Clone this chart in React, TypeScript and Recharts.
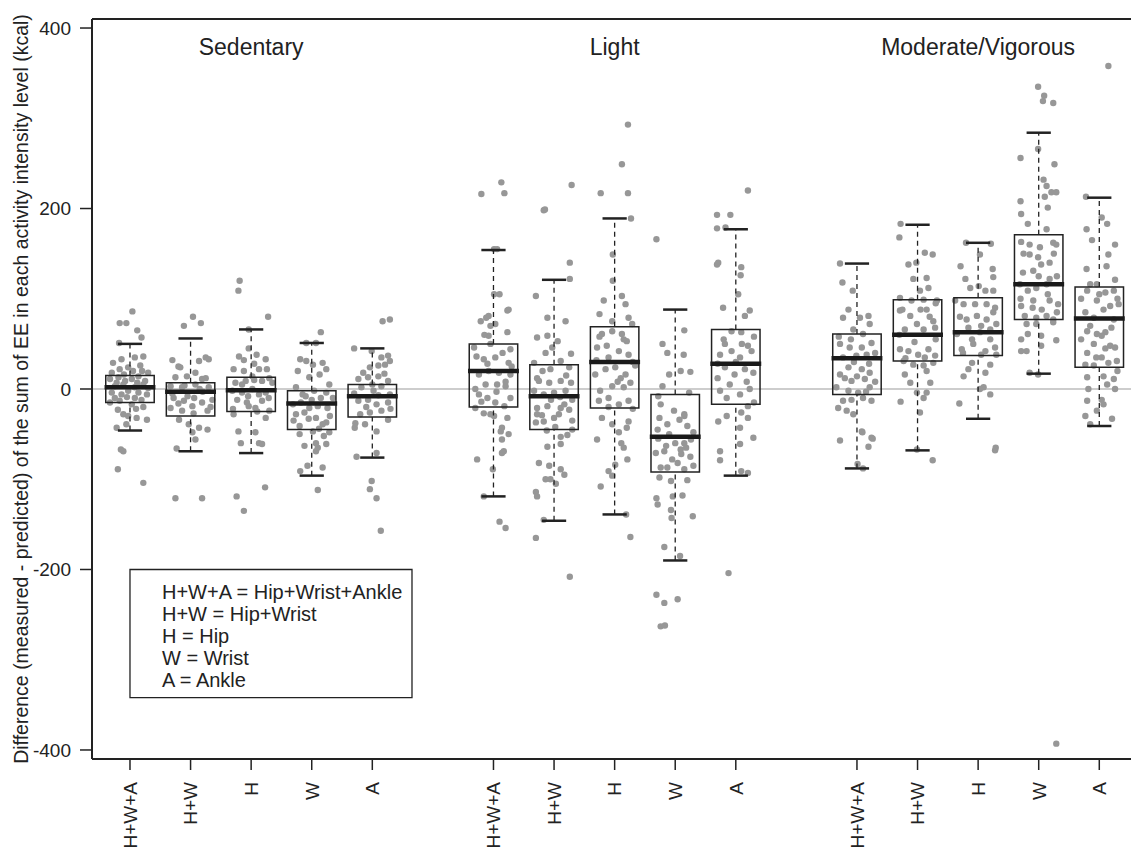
import {
  ComposedChart,
  Scatter,
  XAxis,
  YAxis,
  ReferenceLine,
  ReferenceArea,
  ReferenceDot,
} from 'recharts'

const font = '"Liberation Sans", Arial, Helvetica, sans-serif'
const ink = '#222'
const dotGray = '#979797'

const levels = ['Sedentary', 'Light', 'Moderate/Vigorous']
const levelCenters = [3, 9, 15]
const placements = ['H+W+A', 'H+W', 'H', 'W', 'A']
const positions = [1, 2, 3, 4, 5, 7, 8, 9, 10, 11, 13, 14, 15, 16, 17]
const yTicks = [-400, -200, 0, 200, 400]

const lowerWhisker = [-46, -69, -71, -96, -76, -119, -146, -139, -190, -96, -88, -68, -33, 17, -41]
const q1 = [-15, -30, -25, -45, -31, -20, -45, -21, -92, -17, -6, 31, 37, 77, 24]
const median = [2, -3, -1.5, -16, -8, 20, -8, 30, -53, 28, 34, 60, 63, 116, 78]
const q3 = [15, 7, 13, -2, 5, 50, 27, 69, -6, 66, 61, 99, 101, 171, 113]
const upperWhisker = [50, 56, 66, 51, 45, 154, 121, 189, 88, 177, 139, 182, 162, 284, 212]

const legendLines = [
  'H+W+A = Hip+Wrist+Ankle',
  'H+W = Hip+Wrist',
  'H = Hip',
  'W = Wrist',
  'A = Ankle',
]

const sedHWA = [
  [0.04, 86], [-0.17, 73], [-0.06, 73], [0.12, 65], [0.19, 57], [-0.18, 51],
  [-0.28, 29], [-0.14, 33], [0.08, 35], [0.22, 36], [-0.17, 22], [-0.03, 24], [0.17, 26],
  [-0.33, 11], [-0.19, 13], [-0.08, 9], [0.03, 11], [0.14, 14], [0.25, 9],
  [-0.25, 3], [-0.11, 5], [0.08, 2], [0.22, 5], [-0.3, -4], [-0.14, -6], [-0.03, -2], [0.14, -4], [0.28, -6],
  [-0.33, -15], [-0.17, -13], [0.19, -12], [0.03, -17], [-0.11, -28], [-0.03, -30], [0.11, -32], [0.28, -34],
  [-0.06, -39], [-0.22, -43], [-0.15, -67], [-0.11, -69], [-0.2, -89], [0.22, -104],
  [-0.3, 18], [0.3, 18], [-0.1, 16], [0.05, 20], [0.2, 20], [-0.22, 7], [0.12, 7], [0.3, 1],
  [-0.05, -9], [0.08, -10], [-0.25, -10], [0.22, -20], [-0.2, -23], [0.1, -22],
]
const sedHW = [
  [0.04, 80], [0.17, 73], [-0.11, 70], [-0.2, 25], [0.25, 35], [-0.17, 24], [0.14, 31], [0.3, 33],
  [-0.25, 13], [-0.06, 14], [0.19, 11], [0.08, 18], [-0.33, 3], [-0.14, 2], [0.08, 5], [0.3, 2],
  [-0.28, -10], [-0.11, -13], [0.06, -10], [0.19, -15], [0.36, -12],
  [-0.33, -21], [-0.14, -24], [0.03, -19], [0.28, -24], [-0.19, -34], [-0.03, -39], [0.14, -43], [0.28, -45],
  [0.03, -48], [0.08, -56], [-0.23, -66], [-0.25, -121], [0.19, -121],
  [-0.3, -5], [0.2, -3], [-0.05, -8], [0.33, -20], [-0.2, -16], [0.05, -27], [0.15, 0], [-0.1, 4],
  [0.25, 12], [-0.3, 32],
]
const sedH = [
  [-0.19, 120], [-0.21, 109], [0.28, 80], [-0.04, 66], [-0.04, 45], [0.09, 38], [-0.2, 36], [0.24, 33],
  [-0.29, 22], [-0.12, 20], [0.13, 22], [0.26, 22], [0.02, 14], [-0.26, 7], [-0.09, 9], [0.18, 9], [0.35, 7],
  [-0.31, -2], [-0.15, -4], [0.02, 0], [0.24, -4], [0.13, -6], [-0.23, -12], [-0.07, -15], [0.18, -13], [0.29, -10],
  [-0.29, -28], [-0.04, -19], [0.07, -21], [0.24, -32], [-0.21, -47], [0.07, -48], [0.13, -60],
  [-0.17, -60], [0.18, -61], [-0.24, -119], [0.23, -109], [-0.12, -135],
  [-0.15, 5], [0.05, 10], [0.3, 12], [-0.05, -8], [0.1, -25], [-0.3, -22], [0.3, -24], [0.05, 28], [-0.12, 32],
]
const sedW = [
  [0.15, 63], [-0.09, 51], [0.07, 51], [-0.19, 33], [-0.09, 31], [0.02, 27], [0.18, 29], [0.24, 22],
  [-0.23, 20], [-0.04, 13], [0.13, 16], [0.29, 5], [-0.26, 2], [-0.15, -6], [0.04, -2], [0.24, -4], [0.35, -10],
  [-0.31, -17], [-0.18, -15], [-0.04, -21], [0.1, -19], [0.26, -21], [-0.26, -28], [-0.12, -26], [0.07, -32], [0.24, -37],
  [-0.2, -41], [0.02, -47], [0.18, -39], [0.29, -48], [-0.12, -63], [0.07, -60], [0.24, -61],
  [0.07, -69], [0.1, -65], [-0.19, -91], [-0.07, -85], [0.18, -87], [0.1, -112],
  [-0.1, -8], [0.15, -10], [-0.3, -35], [0.12, -44], [-0.05, -33], [0.3, -30], [0, -12], [-0.2, -50], [0.2, -52],
]
const sedA = [
  [0.17, 75], [0.29, 77], [-0.3, 45], [-0.01, 42], [0.15, 35], [0.26, 37], [-0.04, 24], [0.1, 26], [0.21, 27], [0.29, 31],
  [-0.23, 11], [-0.07, 13], [0.1, 14], [0.26, 9], [-0.18, 2], [0.02, -2], [0.15, 3], [0.29, -6],
  [-0.23, -13], [-0.07, -12], [0.07, -17], [0.26, -15], [-0.2, -28], [-0.04, -26], [0.26, -34],
  [-0.29, -43], [-0.12, -39], [0.07, -47], [-0.26, -75], [0.07, -71],
  [-0.01, -102], [-0.04, -111], [0.07, -121], [0.14, -157],
  [-0.3, -5], [0.1, -7], [-0.1, -20], [0.15, -24], [0.3, -22], [-0.15, 18], [0.2, 17], [-0.28, -38], [0, 5],
]
const lightHWA = [
  [-0.2, 216], [0.13, 229], [0.18, 217], [0.01, 155], [0.06, 155], [0.01, 105], [0.1, 105], [0.23, 87], [0.25, 88],
  [-0.21, 75], [-0.08, 81], [-0.12, 79], [-0.05, 70], [0.03, 72], [0.23, 63], [-0.08, 59],
  [-0.32, 46], [-0.05, 50], [0.28, 44], [-0.16, 33], [0.03, 35], [0.25, 29],
  [-0.24, 16], [-0.08, 20], [0.09, 18], [0.28, 16], [-0.13, 5], [0.06, 5], [0.2, 3],
  [-0.24, -6], [-0.1, -10], [0.03, -15], [0.28, -10], [-0.3, -21], [-0.05, -28], [0.23, -32], [0.14, -43],
  [0.12, -47], [0.25, -50], [0.01, -30], [-0.16, -27], [0.14, -56], [0.14, -71], [0.17, -69],
  [-0.27, -78], [-0.01, -89], [-0.16, -119], [0.1, -147], [0.2, -154],
  [-0.28, 36], [0.15, 40], [-0.1, 28], [0.2, 8], [-0.3, 0], [0.05, -3], [-0.2, -14], [0.18, -19], [0.3, 25], [-0.15, 60],
]
const lightHW = [
  [0.29, 226], [-0.17, 198], [-0.15, 199], [0.26, 140], [0.26, 122], [-0.3, 103], [-0.11, 79], [0.19, 75],
  [-0.28, 57], [-0.11, 59], [0.06, 53], [-0.14, 40], [-0.33, 29], [-0.03, 46], [0.28, 39],
  [-0.19, 20], [-0.06, 22], [0.11, 31], [0.25, 24], [-0.25, 9], [-0.08, 7], [0.11, 9], [0.28, 7],
  [-0.33, -2], [-0.17, -6], [0, -4], [0.19, -2], [0.3, -12], [-0.28, -21], [-0.11, -19], [0.11, -21], [0.25, -23],
  [-0.3, -37], [-0.17, -36], [0.08, -28], [0, -32], [0.11, -53], [0.22, -51], [0.17, -17], [-0.28, -28],
  [0.11, -61], [-0.11, -64], [-0.25, -82], [-0.08, -85], [0.11, -89], [0.17, -95],
  [-0.14, -100], [-0.06, -100], [0.03, -105], [-0.3, -114], [-0.28, -119], [-0.17, -145], [-0.3, -165], [0.26, -208],
  [-0.28, 12], [0.2, 15], [-0.05, -12], [0.1, -9], [-0.2, -29], [0.3, -35], [0.02, -42], [-0.12, -46], [0.3, -45],
]
const lightH = [
  [0.22, 293], [0.12, 249], [-0.23, 217], [0.22, 217], [0.27, 189], [-0.03, 149], [-0.03, 120],
  [-0.18, 98], [0.12, 103], [0.18, 94], [-0.25, 83], [-0.04, 75], [0.23, 79], [0.29, 72],
  [-0.21, 61], [-0.04, 64], [0.12, 61], [0.2, 53], [-0.29, 46], [-0.13, 48], [0.07, 42], [0.23, 38],
  [-0.32, 16], [-0.15, 22], [0.01, 24], [0.18, 16], [0.34, 26], [-0.24, -2], [-0.04, 3], [0.15, 2], [0.26, 7],
  [-0.26, -13], [-0.1, -10], [0.07, -17], [0.23, -13], [-0.21, -32], [-0.04, -39], [0.23, -36], [0.2, -43],
  [-0.29, -56], [0.07, -48], [0.11, -60], [0.15, -65], [0.01, -84], [0.21, -78], [-0.1, -91], [-0.04, -96],
  [-0.23, -108], [0.19, -139], [0.26, -164],
  [-0.3, 32], [0.3, 30], [-0.1, 35], [0.15, 55], [-0.25, 58], [0.05, 8], [-0.1, -20], [0.3, -22], [0.1, 12],
]
const lightW = [
  [-0.31, 166], [0.15, 65], [-0.21, 50], [-0.13, 40], [0.14, 38], [0.09, 20], [0.25, 19], [-0.1, 16], [-0.21, 3],
  [0.23, -4], [-0.24, -17], [-0.02, -24], [0.15, -28], [-0.13, -39], [0.07, -34], [-0.29, -45],
  [0.15, -30], [-0.26, -32], [0.2, -41], [-0.1, -50], [0.15, -60], [0.26, -56],
  [-0.32, -71], [-0.18, -69], [0.09, -67], [0.18, -65], [0.04, -82], [-0.13, -87], [0.15, -89], [-0.24, -87],
  [-0.26, -98], [-0.07, -102], [0.2, -101], [-0.31, -121], [-0.29, -128], [-0.04, -119], [0.12, -118],
  [-0.07, -134], [0.29, -141], [-0.06, -143], [-0.18, -175], [0.08, -185],
  [-0.31, -228], [-0.18, -237], [0.04, -233], [-0.24, -263], [-0.17, -262],
  [-0.28, -55], [0.3, -48], [0, -60], [-0.15, -63], [0.25, -75], [-0.05, -78], [0.1, -72], [0.3, -85], [-0.28, -8],
]
const lightA = [
  [0.2, 220], [-0.31, 193], [-0.09, 193], [-0.31, 178], [-0.17, 179], [-0.29, 140], [-0.31, 138], [0.09, 135],
  [0.08, 126], [0.04, 105], [-0.21, 90], [0.23, 87], [0.15, 81], [-0.07, 64], [0.09, 63], [-0.18, 50], [0.2, 48],
  [-0.26, 38], [-0.07, 42], [0.07, 35], [0.26, 42], [-0.18, 24], [-0.02, 16], [0.15, 22], [0.29, 18],
  [-0.26, -2], [-0.1, 5], [0.07, -6], [0.23, 0], [-0.29, -36], [-0.15, -30], [0.09, -26], [0.2, -32],
  [0.29, -54], [0.07, -43], [0.2, -19], [0.07, -61], [-0.26, -69], [-0.26, -79], [0.2, -93], [0.09, -91], [-0.12, -204],
  [-0.2, 55], [0.1, 50], [0.3, 58], [-0.3, 28], [0, 30], [0.18, 8], [-0.15, -10], [0.3, -15], [-0.3, 12],
]
const modHWA = [
  [-0.28, 139], [-0.24, 118], [-0.07, 109], [-0.14, 88], [-0.23, 79], [0.05, 79], [0.19, 81],
  [-0.06, 66], [0.21, 72], [0.1, 61], [-0.28, 50], [-0.12, 46], [0.08, 46], [0.24, 51],
  [-0.23, 35], [-0.01, 37], [0.16, 38], [-0.14, 24], [0.08, 22], [0.21, 18], [-0.28, 16], [-0.09, 9], [0.13, 11],
  [-0.34, 2], [-0.14, -2], [0.02, -4], [0.21, 2], [-0.23, -13], [-0.09, -12], [0.1, -10], [0.24, -13],
  [-0.31, -21], [-0.17, -24], [-0.06, -28], [0.08, -47], [0.24, -54], [-0.28, -57], [0.09, -48], [0.26, -55],
  [0.19, -64], [0.01, -83], [0.1, -88],
  [-0.3, 58], [0.3, 40], [-0.05, 30], [0.2, 28], [-0.2, 12], [0.3, 8], [0, 14], [-0.1, 55], [0.15, -3],
]
const modHW = [
  [-0.28, 183], [-0.3, 168], [0.12, 151], [0.25, 149], [-0.15, 138], [-0.02, 140], [-0.07, 122], [0.15, 123],
  [0.04, 109], [0.18, 112], [-0.29, 101], [-0.1, 98], [0.1, 99], [0.32, 98],
  [-0.29, 87], [-0.12, 81], [0.15, 88], [0.26, 75], [-0.01, 72], [-0.21, 66], [0.1, 66], [0.29, 68],
  [-0.29, 44], [-0.15, 42], [0.01, 38], [0.18, 44], [0.29, 37], [-0.23, 31], [-0.07, 27], [0.1, 26], [0.26, 29],
  [-0.21, 16], [-0.12, 7], [0.15, 20], [0.21, 7], [-0.01, -4], [0.15, -4], [-0.28, -14], [0.1, -10],
  [0.04, -26], [-0.01, -67], [0.25, -79],
  [-0.25, 88], [0.05, 88], [0.2, 80], [-0.3, 60], [0.3, 55], [-0.05, 52], [0.12, 35], [-0.2, 34], [0.3, 95],
]
const modH = [
  [-0.2, 162], [0.21, 161], [0.03, 149], [0.24, 133], [0.25, 124], [-0.29, 136], [-0.21, 122], [-0.13, 112],
  [0.01, 114], [0.12, 109], [0.25, 109], [-0.38, 98], [-0.24, 94], [-0.05, 94], [0.14, 94], [0.28, 90],
  [-0.19, 77], [-0.02, 81], [0.14, 77], [0.25, 85], [-0.35, 61], [-0.16, 68], [0.03, 63], [0.2, 66],
  [-0.27, 44], [-0.08, 50], [0.12, 42], [0.28, 46], [-0.1, 29], [0.2, 27], [-0.24, 14], [0.12, 18], [-0.16, 22],
  [0.09, 2], [0.2, -6], [0.03, 0], [-0.31, -16], [0.28, -68], [0.29, -65],
  [-0.3, 80], [0.05, 70], [0.3, 72], [-0.1, 55], [0.2, 55], [-0.25, 40], [0.05, 38], [0.3, 38],
]
const modW = [
  [-0.01, 335], [0.09, 325], [0.07, 319], [0.24, 317], [-0.01, 266], [-0.3, 256], [0.26, 249],
  [0.08, 232], [0.13, 225], [0.21, 218], [0.29, 218], [0.1, 213], [-0.3, 208], [-0.29, 194],
  [-0.18, 183], [0.15, 201], [0.13, 177], [0.24, 162], [-0.29, 163], [-0.15, 160], [0.02, 157], [0.29, 160],
  [-0.15, 149], [-0.01, 146], [0.18, 140], [-0.26, 129], [-0.09, 131], [0.04, 138], [0.18, 122],
  [-0.31, 116], [-0.18, 109], [-0.04, 112], [0.13, 116], [-0.29, 92], [-0.09, 98], [0.18, 98], [0.32, 94],
  [-0.23, 81], [-0.04, 79], [0.13, 81], [0.24, 77], [-0.2, 72], [-0.04, 72], [0.24, 74],
  [-0.29, 55], [-0.18, 61], [0.04, 59], [0.29, 54], [-0.29, 42], [-0.2, 42], [0.04, 48],
  [-0.15, 18], [-0.01, 16], [0.29, -393],
  [-0.25, 150], [0.25, 150], [0, 125], [0.3, 125], [-0.1, 90], [0.05, 88], [0.3, 85], [-0.3, 100], [0.15, 105],
]
const modA = [
  [0.15, 358], [-0.22, 213], [0.04, 190], [0.13, 183], [-0.21, 177], [-0.12, 165], [0.26, 160], [0.15, 149],
  [-0.21, 133], [0.12, 136], [0.26, 121], [-0.15, 116], [-0.04, 116], [0.1, 107], [0.24, 109], [-0.2, 109],
  [-0.04, 98], [0.07, 88], [0.18, 92], [0.32, 94], [-0.23, 85], [-0.09, 79], [0.24, 77],
  [-0.2, 64], [-0.04, 61], [0.1, 63], [0.04, 59], [0.18, 48], [0.26, 46], [-0.09, 50], [-0.2, 40], [0.04, 35],
  [-0.23, 27], [-0.09, 26], [0.15, 29], [0.29, 31], [-0.2, 13], [0.07, 14], [0.24, 11],
  [-0.18, 0], [0.26, 0], [0.13, 5], [-0.2, -13], [0.04, -12], [0.07, -17],
  [-0.04, -24], [0.21, -33], [-0.23, -30], [-0.15, -39],
  [-0.3, 100], [0, 105], [0.3, 100], [-0.15, 70], [0.2, 68], [-0.3, 55], [0.1, 45], [-0.05, 35], [0.3, 20],
]

const groups = [
  sedHWA, sedHW, sedH, sedW, sedA,
  lightHWA, lightHW, lightH, lightW, lightA,
  modHWA, modHW, modH, modW, modA,
]

const points = groups.flatMap((pts, i) =>
  pts.map(([dx, v]) => ({ x: positions[i] + dx, y: v }))
)

const tickName = (v: number) => placements[positions.indexOf(v) % 5]

function PlacementTick({ x, y, payload }: any) {
  return (
    <text
      x={x}
      y={y}
      transform={`rotate(-90, ${x}, ${y})`}
      textAnchor="end"
      dy="0.36em"
      fontSize={19}
      fontFamily={font}
      fill={ink}
    >
      {tickName(payload.value)}
    </text>
  )
}

function LegendText({ viewBox }: any) {
  const { x, y } = viewBox
  return (
    <g>
      {legendLines.map((t, i) => (
        <text key={t} x={x + 32} y={y + 30 + i * 22} fontSize={20} fontFamily={font} fill={ink}>
          {t}
        </text>
      ))}
    </g>
  )
}

const BOX = 0.4
const CAP = 0.2

export default function App() {
  return (
    <div style={{ position: 'absolute', left: 0, top: 0, width: 1131, height: 850, overflow: 'hidden', background: '#fff' }}>
      <ComposedChart
        width={1140}
        height={850}
        data={points}
        margin={{ top: 19, right: 0, bottom: 0, left: 0 }}
        style={{ fontFamily: font }}
      >
        <XAxis
          type="number"
          dataKey="x"
          domain={[0.373, 17.672]}
          ticks={positions}
          interval={0}
          height={91}
          tickSize={11}
          tickMargin={12}
          tick={<PlacementTick />}
          axisLine={{ stroke: ink, strokeWidth: 2 }}
          tickLine={{ stroke: ink, strokeWidth: 1.5 }}
        />
        <YAxis
          type="number"
          dataKey="y"
          domain={[-410, 410]}
          ticks={yTicks}
          interval={0}
          width={92}
          tickSize={12}
          tickMargin={9}
          tick={{ fontSize: 19, fill: ink, fontFamily: font }}
          axisLine={{ stroke: ink, strokeWidth: 2 }}
          tickLine={{ stroke: ink, strokeWidth: 1.5 }}
          label={{
            value: 'Difference (measured - predicted) of the sum of EE in each activity intensity level (kcal)',
            angle: -90,
            position: 'insideLeft',
            offset: 21,
            style: { textAnchor: 'middle', fontSize: 19.5, fill: ink, fontFamily: font },
          }}
        />
        <ReferenceLine y={0} stroke="#bdbdbd" strokeWidth={1.5} zIndex={0} />
        <Scatter
          data={points}
          dataKey="y"
          isAnimationActive={false}
          zIndex={1}
          shape={(p: any) => <circle cx={p.cx} cy={p.cy} r={3.2} fill={dotGray} />}
        />
        {positions.map((p, i) => (
          <ReferenceLine
            key={`wu${i}`}
            segment={[{ x: p, y: q3[i] }, { x: p, y: upperWhisker[i] }]}
            stroke={ink}
            strokeWidth={1.3}
            strokeDasharray="5 4"
            zIndex={700}
          />
        ))}
        {positions.map((p, i) => (
          <ReferenceLine
            key={`wl${i}`}
            segment={[{ x: p, y: lowerWhisker[i] }, { x: p, y: q1[i] }]}
            stroke={ink}
            strokeWidth={1.3}
            strokeDasharray="5 4"
            zIndex={700}
          />
        ))}
        {positions.map((p, i) => (
          <ReferenceLine
            key={`cu${i}`}
            segment={[{ x: p - CAP, y: upperWhisker[i] }, { x: p + CAP, y: upperWhisker[i] }]}
            stroke={ink}
            strokeWidth={2.5}
            zIndex={700}
          />
        ))}
        {positions.map((p, i) => (
          <ReferenceLine
            key={`cl${i}`}
            segment={[{ x: p - CAP, y: lowerWhisker[i] }, { x: p + CAP, y: lowerWhisker[i] }]}
            stroke={ink}
            strokeWidth={2.5}
            zIndex={700}
          />
        ))}
        {positions.map((p, i) => (
          <ReferenceArea
            key={`b${i}`}
            x1={p - BOX}
            x2={p + BOX}
            y1={q1[i]}
            y2={q3[i]}
            fill="none"
            fillOpacity={0}
            stroke={ink}
            strokeWidth={1.5}
            zIndex={700}
          />
        ))}
        {positions.map((p, i) => (
          <ReferenceLine
            key={`m${i}`}
            segment={[{ x: p - BOX - 0.02, y: median[i] }, { x: p + BOX + 0.02, y: median[i] }]}
            stroke="#1a1a1a"
            strokeWidth={4.5}
            zIndex={710}
          />
        ))}
        <ReferenceLine y={410} stroke={ink} strokeWidth={2} zIndex={700} />
        {levels.map((lv, i) => (
          <ReferenceDot
            key={lv}
            x={levelCenters[i]}
            y={379}
            r={0}
            fill="none"
            stroke="none"
            zIndex={720}
            label={{ value: lv, position: 'center', fontSize: 23, fill: ink, fontFamily: font }}
          />
        ))}
        <ReferenceArea
          x1={1}
          x2={5.655}
          y1={-342}
          y2={-200}
          fill="#fff"
          fillOpacity={1}
          stroke={ink}
          strokeWidth={1.3}
          zIndex={720}
          label={<LegendText />}
        />
      </ComposedChart>
    </div>
  )
}
